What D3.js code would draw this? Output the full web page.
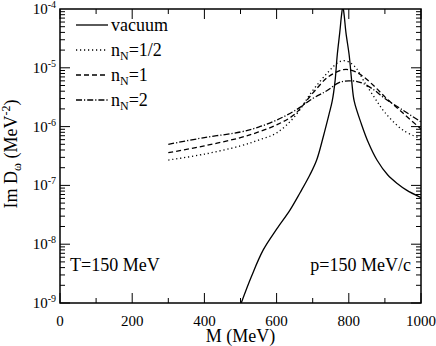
<!DOCTYPE html>
<html>
<head>
<meta charset="utf-8">
<script src="https://cdn.jsdelivr.net/npm/d3@7"></script>
<style>
  body { margin: 0; background: #fff; }
  text { font-family: "Liberation Serif", Tinos, "Times New Roman", Times, "DejaVu Serif", serif; }
</style>
</head>
<body>
<svg id="chart"></svg>
<script>
// vacuum curve (MeV, MeV^-2)
const vacuumM = [502, 530, 563, 600, 637, 665, 692, 711, 730, 745, 754, 762, 768, 775, 780, 783.5, 787, 792, 801, 808, 815, 835, 855, 878, 908, 935, 960, 1000];
const vacuumD = [1e-9, 2.8e-9, 8e-9, 1.8e-8, 3.8e-8, 7.5e-8, 1.5e-7, 2.7e-7, 7e-7, 1.6e-6, 2.7e-6, 6e-6, 1.65e-5, 4e-5, 8e-5, 1.1e-4, 8e-5, 4e-5, 1.65e-5, 6e-6, 2.7e-6, 1.1e-6, 5.2e-7, 2.7e-7, 1.5e-7, 1.07e-7, 8.3e-8, 6.2e-8];

// in-medium curves share one mass grid
const mediumM = [300, 400, 500, 550, 600, 650, 700, 740, 770, 785, 800, 820, 840, 870, 900, 950, 1000];
const halfD = [2.7e-7, 3.4e-7, 4.7e-7, 5.9e-7, 7.8e-7, 1.48e-6, 4.1e-6, 8.1e-6, 1.23e-5, 1.32e-5, 1.26e-5, 1.0e-5, 6.2e-6, 3.2e-6, 1.74e-6, 8.7e-7, 6.2e-7];
const oneD = [3.6e-7, 4.7e-7, 6.5e-7, 8.1e-7, 1.07e-6, 1.62e-6, 3.7e-6, 6.8e-6, 8.7e-6, 9.3e-6, 9.3e-6, 8.5e-6, 7.1e-6, 4.9e-6, 3.2e-6, 1.7e-6, 9.1e-7];
const twoD = [5.0e-7, 6.5e-7, 8.1e-7, 9.8e-7, 1.29e-6, 1.86e-6, 3.0e-6, 4.1e-6, 5.5e-6, 5.9e-6, 6.0e-6, 5.9e-6, 5.4e-6, 4.2e-6, 3.0e-6, 1.9e-6, 1.2e-6];

const xTicks = [0, 200, 400, 600, 800, 1000];
const yExponents = [-4, -5, -6, -7, -8, -9];

const width = 436, height = 346;
const margin = { top: 9, right: 15, bottom: 43, left: 60 };
const plotW = width - margin.left - margin.right;
const plotH = height - margin.top - margin.bottom;

const svg = d3.select('#chart').attr('width', width).attr('height', height);
const g = svg.append('g').attr('transform', `translate(${margin.left},${margin.top})`);

const x = d3.scaleLinear().domain([0, 1000]).range([0, plotW]);
const y = d3.scaleLog().domain([1e-9, 1e-4]).range([plotH, 0]);

g.append('clipPath').attr('id', 'clip')
  .append('rect').attr('width', plotW).attr('height', plotH);

// ticks, all pointing inward, on all four sides
const majorLen = 10, minorLen = 5;
const xMinor = d3.range(100, 1000, 200);
const tickG = g.append('g').attr('stroke', '#000').attr('stroke-width', 1);
xTicks.concat(xMinor).forEach(v => {
  const len = xTicks.includes(v) ? majorLen : minorLen;
  tickG.append('line').attr('x1', x(v)).attr('x2', x(v)).attr('y1', plotH).attr('y2', plotH - len);
  tickG.append('line').attr('x1', x(v)).attr('x2', x(v)).attr('y1', 0).attr('y2', len);
});
for (let e = -9; e < -4; e++) {
  for (let k = 1; k <= 9; k++) {
    const v = k * Math.pow(10, e);
    const len = k === 1 ? majorLen : minorLen;
    tickG.append('line').attr('x1', 0).attr('x2', len).attr('y1', y(v)).attr('y2', y(v));
    tickG.append('line').attr('x1', plotW).attr('x2', plotW - len).attr('y1', y(v)).attr('y2', y(v));
  }
}

// x tick labels
g.selectAll('.xlab').data(xTicks).enter().append('text')
  .attr('x', d => x(d)).attr('y', plotH + 23)
  .attr('text-anchor', 'middle').style('font-size', '15px')
  .text(d => d);

// y tick labels 10^n
yExponents.forEach(e => {
  const t = g.append('text')
    .attr('x', -4).attr('y', y(Math.pow(10, e)) + 5)
    .attr('text-anchor', 'end').style('font-size', '15px');
  t.append('tspan').text('10');
  t.append('tspan').attr('dy', -6).style('font-size', '10px').text(e);
});

// axis titles
g.append('text')
  .attr('x', plotW / 2).attr('y', plotH + 39)
  .attr('text-anchor', 'middle').style('font-size', '18px')
  .text('M (MeV)');

const yt = svg.append('text')
  .attr('transform', `translate(17,${margin.top + plotH / 2 - 2}) rotate(-90)`)
  .attr('text-anchor', 'middle').style('font-size', '18px');
yt.append('tspan').text('Im D');
yt.append('tspan').attr('dy', 4).style('font-size', '12px').text('ω');
yt.append('tspan').attr('dy', -4).text(' (MeV');
yt.append('tspan').attr('dy', -7).style('font-size', '12px').text('-2');
yt.append('tspan').attr('dy', 7).text(')');

// curves
const line = d3.line()
  .x(d => x(d[0]))
  .y(d => y(d[1]))
  .curve(d3.curveCatmullRom.alpha(0.5));

const series = [
  { label: 'vacuum', m: vacuumM, v: vacuumD, dash: null, sub: null },
  { label: '=1/2', m: mediumM, v: halfD, dash: '1.2,2.8', sub: true },
  { label: '=1', m: mediumM, v: oneD, dash: '5,3', sub: true },
  { label: '=2', m: mediumM, v: twoD, dash: '6,2,1.2,2', sub: true }
];

const curves = g.append('g').attr('clip-path', 'url(#clip)');
series.forEach(s => {
  curves.append('path')
    .datum(s.m.map((m, i) => [m, s.v[i]]))
    .attr('d', line)
    .attr('fill', 'none')
    .attr('stroke', '#000')
    .attr('stroke-width', 1.3)
    .attr('stroke-dasharray', s.dash);
});

// legend
const legend = g.append('g').attr('transform', 'translate(16,16)');
series.forEach((s, i) => {
  const ly = i * 25;
  legend.append('line')
    .attr('x1', 0).attr('x2', 32).attr('y1', ly).attr('y2', ly)
    .attr('stroke', '#000').attr('stroke-width', 1.3)
    .attr('stroke-dasharray', s.dash);
  const t = legend.append('text').attr('x', 35).attr('y', ly + 6).style('font-size', '18px');
  if (s.sub) {
    t.append('tspan').text('n');
    t.append('tspan').attr('dy', 4).style('font-size', '12px').text('N');
    t.append('tspan').attr('dy', -4).text(s.label);
  } else {
    t.text(s.label);
  }
});

// annotations
g.append('text').attr('x', 10).attr('y', plotH - 32)
  .style('font-size', '18px').text('T=150 MeV');
g.append('text').attr('x', plotW - 10).attr('y', plotH - 32)
  .attr('text-anchor', 'end').style('font-size', '18px').text('p=150 MeV/c');

// frame
g.append('rect').attr('width', plotW).attr('height', plotH)
  .attr('fill', 'none').attr('stroke', '#000').attr('stroke-width', 1.5);
</script>
</body>
</html>
